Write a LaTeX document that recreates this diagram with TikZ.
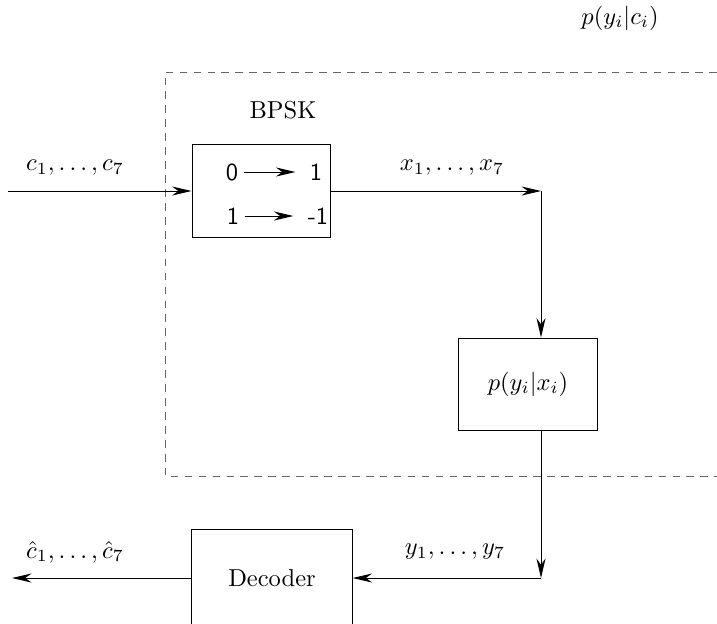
\documentclass[tikz,border=0pt]{standalone}
\usetikzlibrary{arrows.meta}
\tikzset{
  blk/.style={draw, thin, inner sep=0pt},
  lbl/.style={inner sep=1pt},
  dig/.style={font=\sffamily, inner sep=2pt}
}
\begin{document}
\begin{tikzpicture}[x=0.1435mm, y=-0.1435mm, >={Stealth[length=2.8mm,width=1.3mm]}, thin]
\useasboundingbox (0,0) rectangle (717,623);
% Channel region p(y|c)
\draw[black!60, dash pattern=on 1.1mm off 0.9mm] (717,72) -- (165,72) -- (165,476) -- (717,476);
\node[lbl] (pyc) at (620,18) {$p(y_i|c_i)$};
% Blocks
\node[blk, minimum width=19.8mm, minimum height=13.3mm] (bpsk) at (261,191) {};
\node[lbl] (bpsklbl) at (283,110) {BPSK};
\node[blk, minimum width=19.9mm, minimum height=13.2mm] (chan) at (528,384) {$p(y_i|x_i)$};
\node[blk, minimum width=23mm, minimum height=13.8mm] (dec) at (272,578) {Decoder};
% Mapping inside BPSK
\node[dig] (za) at (232,172) {0};
\node[dig] (zb) at (316,172) {1};
\node[dig] (oa) at (233,216) {1};
\node[dig] (ob) at (318,216) {-1};
\draw[->, shorten >=1.3mm] (za) -- (zb);
\draw[->, shorten >=1.3mm] (oa) -- (ob);
% Corners
\coordinate (cin) at (8,191);
\coordinate (xc) at (541,191);
\coordinate (yc) at (541,578);
\coordinate (cout) at (12,578);
% Signal path
\draw[->] (cin) -- (bpsk.west);
\node[lbl] (clbl) at (75,168) {$c_1,\ldots,c_7$};
\draw[->] (bpsk.east) -- (xc);
\node[lbl] (xlbl) at (452,168) {$x_1,\ldots,x_7$};
\draw[->] (xc) -- (xc |- chan.north);
\draw[->] (xc |- chan.south) -- (yc);
\draw[->] (yc) -- (dec.east);
\node[lbl] (ylbl) at (455,552) {$y_1,\ldots,y_7$};
\draw[->] (dec.west) -- (cout);
\node[lbl] (chlbl) at (75,552) {$\hat{c}_1,\ldots,\hat{c}_7$};
\end{tikzpicture}
\end{document}
